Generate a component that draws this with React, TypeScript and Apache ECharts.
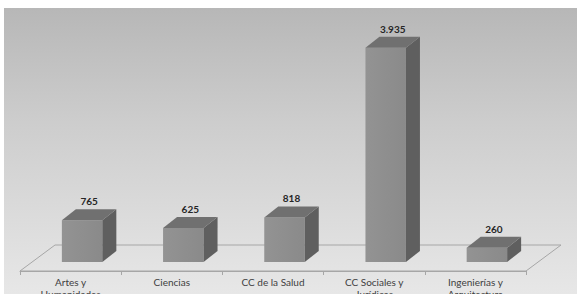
import React, { useEffect, useRef } from "react";
import * as echarts from "echarts";

const categories = [
  "Artes y\nHumanidades",
  "Ciencias",
  "CC de la Salud",
  "CC Sociales y\nJurídicas",
  "Ingenierías y\nArquitectura",
];
const values = [765, 625, 818, 3935, 260];

const fmt = (v: number) => String(v).replace(/\B(?=(\d{3})+(?!\d))/g, ".");

// 3D geometry (pixels)
const FLOOR_DX = 35;
const FLOOR_DY = -26;
const BAR_SHIFT_X = 11.5;
const BAR_SHIFT_Y = -9;
const BAR_DX = 14;
const BAR_DY = -11;

export default function App() {
  const ref = useRef<HTMLDivElement>(null);
  useEffect(() => {
    const chart = echarts.init(ref.current!, null, { renderer: "svg" });
    chart.setOption({
      animation: false,
      backgroundColor: "#ffffff",
      graphic: [
        {
          type: "rect",
          z: -10,
          silent: true,
          shape: { x: 4, y: 8, width: 573, height: 286 },
          style: {
            fill: new echarts.graphic.LinearGradient(0, 0, 0, 1, [
              { offset: 0, color: "#b7b7b7" },
              { offset: 0.4, color: "#cdcdcd" },
              { offset: 1, color: "#e7e7e7" },
            ]),
          },
        },
      ],
      grid: {
        left: 20,
        right: 51,
        top: 26,
        bottom: 23,
        containLabel: false,
        outerBoundsMode: "none",
      },
      xAxis: {
        type: "category",
        data: categories,
        axisLine: { show: true, lineStyle: { color: "#a6a6a6", width: 1 } },
        axisTick: { show: true, length: 4, lineStyle: { color: "#a6a6a6" } },
        axisLabel: {
          color: "#404040",
          fontSize: 10,
          fontFamily: "Lato, 'Liberation Sans', sans-serif",
          margin: 5,
          lineHeight: 12,
          interval: 0,
        },
      },
      yAxis: {
        type: "value",
        min: 0,
        max: 4500,
        show: false,
        splitLine: { show: false },
      },
      series: [
        {
          type: "custom",
          z: 1,
          data: [[0, 0]],
          renderItem: (params: any, api: any) => {
            const cs = params.coordSys;
            const y0 = cs.y + cs.height;
            const x0 = cs.x;
            const x1 = cs.x + cs.width;
            return {
              type: "polygon",
              shape: {
                points: [
                  [x0, y0],
                  [x1, y0],
                  [x1 + FLOOR_DX, y0 + FLOOR_DY],
                  [x0 + FLOOR_DX, y0 + FLOOR_DY],
                ],
              },
              style: { fill: "rgba(0,0,0,0)", stroke: "#a6a6a6", lineWidth: 1 },
              silent: true,
            };
          },
        },
        {
          type: "custom",
          z: 2,
          data: values.map((v, i) => [i, v]),
          renderItem: (params: any, api: any) => {
            const i = api.value(0);
            const v = api.value(1);
            const base = api.coord([i, 0]);
            const top = api.coord([i, v]);
            const bw = api.size([1, 0])[0] * 0.4;
            const xl = base[0] - bw / 2 + BAR_SHIFT_X;
            const xr = xl + bw;
            const yb = base[1] + BAR_SHIFT_Y;
            const yt = top[1] + BAR_SHIFT_Y;
            return {
              type: "group",
              children: [
                {
                  type: "polygon",
                  shape: {
                    points: [
                      [xl, yt],
                      [xr, yt],
                      [xr, yb],
                      [xl, yb],
                    ],
                  },
                  style: {
                    fill: new echarts.graphic.LinearGradient(0, 0, 1, 0, [
                      { offset: 0, color: "#939393" },
                      { offset: 1, color: "#8a8a8a" },
                    ]),
                  },
                },
                {
                  type: "polygon",
                  shape: {
                    points: [
                      [xr, yt],
                      [xr + BAR_DX, yt + BAR_DY],
                      [xr + BAR_DX, yb + BAR_DY],
                      [xr, yb],
                    ],
                  },
                  style: { fill: "#5f5f5f" },
                },
                {
                  type: "polygon",
                  shape: {
                    points: [
                      [xl, yt],
                      [xl + BAR_DX, yt + BAR_DY],
                      [xr + BAR_DX, yt + BAR_DY],
                      [xr, yt],
                    ],
                  },
                  style: { fill: "#707070" },
                },
                {
                  type: "text",
                  style: {
                    text: fmt(v),
                    x: (xl + xr) / 2 + BAR_DX / 2,
                    y: yt + BAR_DY - 3,
                    align: "center",
                    verticalAlign: "bottom",
                    fill: "#262626",
                    font: "bold 10px Lato, 'Liberation Sans', sans-serif",
                  },
                },
              ],
            };
          },
        },
      ],
    });
    return () => chart.dispose();
  }, []);
  return (
    <div
      ref={ref}
      style={{ position: "absolute", left: 0, top: 0, width: 577, height: 294 }}
    />
  );
}
